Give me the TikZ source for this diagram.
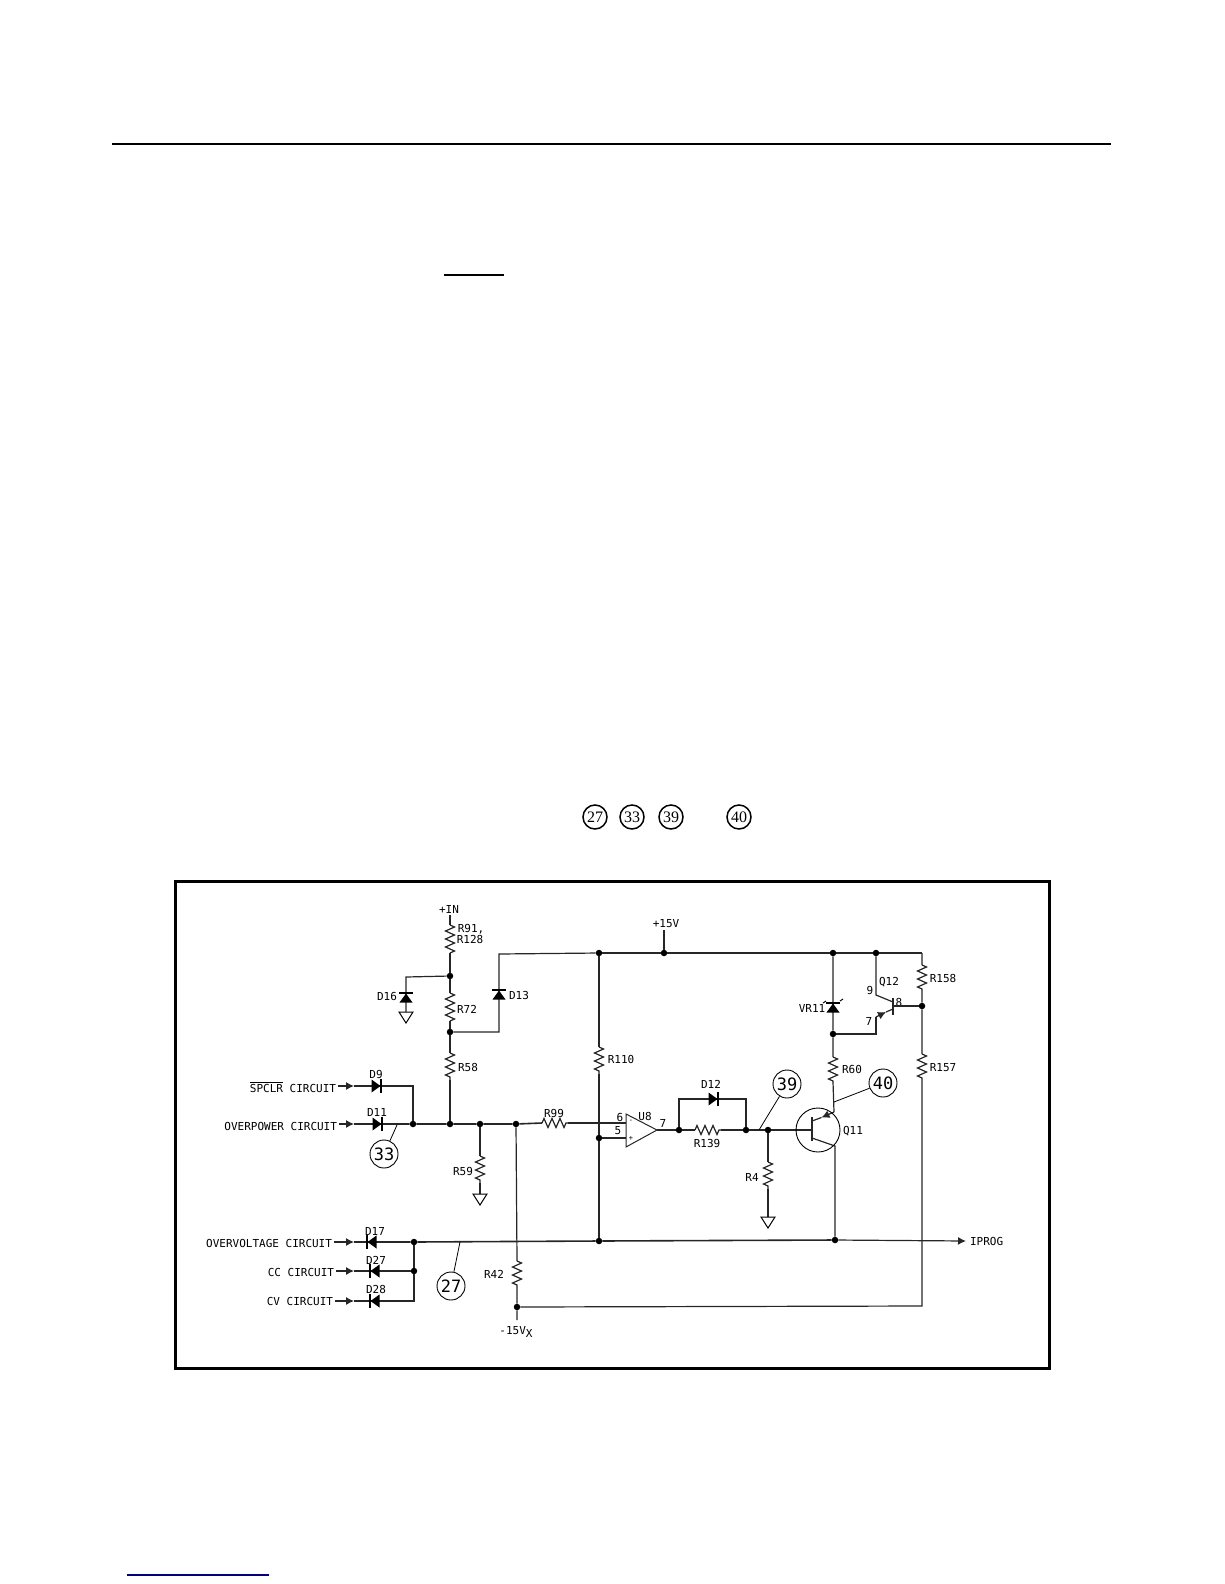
\documentclass[tikz,border=0pt]{standalone}
\usepackage[svgnames]{xcolor}
\usepackage{fontspec}
\usetikzlibrary{arrows.meta,decorations.pathmorphing}
\newfontfamily\plotfont{DejaVu Sans Mono}
\newfontfamily\bookfont{Liberation Serif}
\colorlet{wireInk}{black!85}
\colorlet{linkInk}{Navy}
\tikzset{
  wire/.style={draw=wireInk,line width=1.2pt},
  resistor/.style={decorate,decoration={zigzag,amplitude=4.5pt,segment length=8pt}},
  dotnode/.style={circle,fill=black,inner sep=0pt,minimum size=6.5pt},
  lbl/.style={font=\plotfont\fontsize{11}{12}\selectfont,inner sep=0pt,outer sep=2pt},
  callout/.style={draw=black,circle,line width=0.9pt,minimum size=28pt,inner sep=0pt,font=\plotfont\fontsize{17}{18}\selectfont},
  bookmark/.style={draw=black,circle,line width=1.5pt,minimum size=24pt,inner sep=0pt,font=\bookfont\fontsize{16}{17}\selectfont},
  feed/.style={-{Latex[length=8pt,width=8pt]}},
  diode/.pic={
    \fill (-4.5,-6.5) -- (4.5,0) -- (-4.5,6.5) -- cycle;
    \draw[line width=1.4pt] (5,-7) -- (5,7);
  },
  earth/.pic={
    \draw[line width=1pt] (-7,0) -- (7,0) -- (0,11) -- cycle;
  },
}
\begin{document}
\begin{tikzpicture}[x=1pt,y=-1pt]
\useasboundingbox (0,0) rectangle (1224,1584);
\draw[line width=1.3pt] (112,144) -- (1111,144);
\draw[line width=1.3pt] (444,275) -- (504,275);
\draw[linkInk,line width=1.3pt] (127,1575) -- (269,1575);
\draw[line width=3pt] (175,881) rectangle (1049,1368);
\foreach \nm/\x/\txt in {b27/595/27,b33/632/33,b39/671/39,b40/739/40}
  \node[bookmark] (\nm) at (\x,817) {\txt};
\foreach \nm/\x/\y in {n91/450/976,n72/450/1032,nOp/413/1124,nMid/450/1124,n59/480/1124,
  n42/516/1124,nRail/599/953,n15/664/953,nIn5/599/1138,nFb/679/1130,nD12/746/1130,nR4/768/1130,
  nVrTop/833/953,nVrBot/833/1034,nQ12/876/953,nDiv/922/1006,nOv/414/1242,nCc/414/1271,
  nProgA/599/1241,nProgB/835/1240,nNeg/517/1307}
  \node[dotnode] (\nm) at (\x,\y) {};
\foreach \nm/\x/\y/\txt in {lIn/449/909/+IN,lRa/471/929/{R91,},lRb/470/939/R128,lD16/387/996/D16,
  lD13/519/995/D13,lR72/467/1009/R72,lR58/468/1067/R58,lD9/376/1074/D9,lD11/377/1112/D11,
  lR99/554/1113/R99,lR59/463/1171/R59,l15/666/924/+15V,lR110/621/1059/R110,lU8/645/1116/U8,
  lPa/620/1117/6,lPb/618/1131/5,lPc/663/1123/7,lD12/711/1084/D12,lR139/707/1143/R139,
  lR60/852/1069/R60,lQ11/853/1131/Q11,lQ12/889/982/Q12,lVr/812/1008/VR11,lP9/870/990/9,
  lP7/869/1021/7,lP8/899/1002/8,lR157/943/1068/R157,lR158/943/978/R158,lR42/494/1274/R42,
  lD17/375/1231/D17,lD27/376/1260/D27,lD28/376/1289/D28,lR4/752/1177/R4}
  \node[lbl] (\nm) at (\x,\y) {\txt};
\node[lbl,anchor=east] (srcSp) at (338,1087) {$\overline{\hbox{\plotfont SPCLR}}$ CIRCUIT};
\node[lbl,anchor=east] (srcOp) at (339,1126) {OVERPOWER CIRCUIT};
\node[lbl,anchor=east] (srcOv) at (334,1243) {OVERVOLTAGE CIRCUIT};
\node[lbl,anchor=east] (srcCc) at (336,1272) {CC CIRCUIT};
\node[lbl,anchor=east] (srcCv) at (335,1301) {CV CIRCUIT};
\node[lbl] (lNeg) at (516,1332) {-15V\raisebox{-3pt}{X}};
\node[lbl,anchor=west] (lProg) at (968,1241) {IPROG};
\node[callout] (c33) at (384,1154) {33};
\node[callout] (c27) at (451,1286) {27};
\node[callout] (c39) at (787,1084) {39};
\node[callout] (c40) at (883,1083) {40};
\foreach \nm/\xa/\ya/\xb/\yb in {Ra/450/925/450/953,Rb/450/993/450/1021,Rc/450/1053/450/1080,
  Rd/480/1156/480/1183,Re/542/1123/568/1123,Rf/599/1047/599/1074,Rg/695/1130/721/1130,
  Rh/768/1162/768/1189,Ri/833/1057/833/1082,Rj/922/965/922/990,Rk/922/1054/922/1079,
  Rl/517/1261/517/1287}
{
  \coordinate (\nm a) at (\xa,\ya);
  \coordinate (\nm b) at (\xb,\yb);
  \draw[wire,resistor] (\nm a) -- (\nm b);
}
\foreach \nm/\x/\y in {tD13/499/954,tD16/406/977,eD16/406/1012,tOut/657/1130,tQb/812/1130,
  tIn6/626/1123,tIn5/626/1138,tProg/966/1241,tCorner/922/1306,tRail/922/953,
  tSp/413/1086,tCv/414/1301,tNeg/517/1320,tEm/834/1112,tEmA/821.5/1117.5,tEmB/812/1121,
  tCo/835/1146,tCoB/812/1138,tQc/876/995,tQcB/893/1002,tQe/876/1017,tQeA/886/1012,tQeB/893/1009,
  tBar/893/1006,tFb/679/1099,tFc/746/1099,tE59/480/1194,tE4/768/1217,
  tL33/397/1125,tL27/460/1242,tL39/759/1130,tL40/834/1102,
  aSp/354/1086,aOp/354/1124,aOv/354/1242,aCc/354/1271,aCv/354/1301}
  \coordinate (\nm) at (\x,\y);
\draw[wire] (lIn.south -| Raa) -- (Raa) (Rab) -- (n91) -- (Rba) (Rbb) -- (n72) -- (Rca) (Rcb) -- (nMid);
\draw[wire] (n91) -- (tD16) -- (eD16);
\draw[wire] (n72) -| (tD13) -- (nRail);
\draw[wire,line width=1.6pt] (aOp) -- (nOp) -- (nMid) -- (n59) -- (n42) -- (Rea);
\draw[wire] (Reb) -- (tIn6);
\draw[wire] (n59) -- (Rda) (Rdb) -- (tE59);
\draw[wire] (n42) -- (Rla) (Rlb) -- (nNeg) -- (tNeg);
\draw[wire,line width=1.5pt] (nRail) -- (n15) -- (nVrTop) -- (nQ12) -- (tRail);
\draw[wire] (n15) -- (l15.south -| n15);
\draw[wire] (nRail) -- (Rfa) (Rfb) -- (nIn5) -- (nProgA);
\draw[wire] (nIn5) -- (tIn5);
\draw[wire] (aSp) -- (tSp) -- (nOp);
\draw[wire] (tOut) -- (nFb) -- (Rga) (Rgb) -- (nD12) -- (nR4) -- (tQb);
\draw[wire] (nFb) -- (tFb) -- (tFc) -- (nD12);
\draw[wire] (nR4) -- (Rha) (Rhb) -- (tE4);
\draw[wire] (nVrTop) -- (nVrBot) -- (Ria) (Rib) -- (tEm);
\draw[wire,feed] (tEm) -- (tEmA);
\draw[wire] (tEmA) -- (tEmB);
\draw[wire] (tCoB) -- (tCo) -- (nProgB);
\draw[wire,line width=1.5pt] (tQb |- 0,1117) -- (tQb |- 0,1141);
\draw[line width=0.9pt] (818,1130) circle[radius=22pt];
\draw[wire] (nVrBot) -| (tQe);
\draw[wire,feed] (tQe) -- (tQeA);
\draw[wire] (tQeA) -- (tQeB);
\draw[wire] (nQ12) -- (tQc) -- (tQcB);
\draw[wire,line width=1.5pt] (tBar |- 0,998) -- (tBar |- 0,1015);
\draw[wire] (tBar) -- (nDiv);
\draw[wire] (tRail) -- (Rja) (Rjb) -- (nDiv) -- (Rka) (Rkb) -- (tCorner) -- (nNeg);
\draw[wire,line width=1.6pt] (aOv) -- (nOv) -- (nProgA) -- (nProgB);
\draw[wire,feed] (nProgB) -- (tProg);
\draw[wire] (nOv) -- (nCc) -- (tCv) -- (aCv);
\draw[wire] (nCc) -- (aCc);
\foreach \src/\tip in {srcSp/aSp,srcOp/aOp,srcOv/aOv,srcCc/aCc,srcCv/aCv}
  \draw[wire,feed] (\src.east |- \tip) -- (\tip);
\draw[wire,line width=1pt] (626,1114) -- (657,1130) -- (626,1147) -- cycle;
\node[lbl,font=\plotfont\fontsize{7}{8}\selectfont] (lMinus) at (631,1121) {-};
\node[lbl,font=\plotfont\fontsize{7}{8}\selectfont] (lPlus) at (631,1138) {+};
\foreach \x/\y/\rot in {376/1086/0,377/1124/0,372/1242/180,375/1271/180,375/1301/180,713/1099/0,406/998/90,499/995/90,833/1008/90}
  \pic[rotate=\rot] at (\x,\y) {diode};
\draw[line width=1pt] (840,1001) -- (843,999);
\draw[line width=1pt] (826,1001) -- (823,1003);
\pic at (406,1012) {earth};
\pic at (480,1194) {earth};
\pic at (768,1217) {earth};
\draw[line width=0.8pt] (c33) -- (tL33);
\draw[line width=0.8pt] (c27) -- (tL27);
\draw[line width=0.8pt] (c39) -- (tL39);
\draw[line width=0.8pt] (c40) -- (tL40);
\end{tikzpicture}
\end{document}
